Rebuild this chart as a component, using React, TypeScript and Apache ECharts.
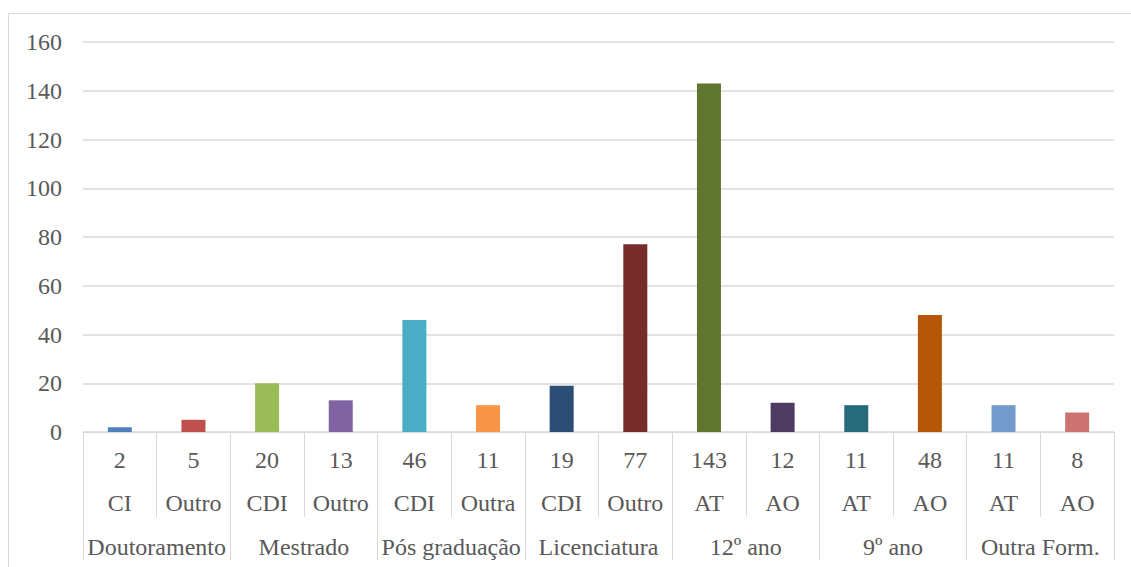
import React, { useEffect, useRef } from "react";
import * as echarts from "echarts";

const subLabels = ["CI", "Outro", "CDI", "Outro", "CDI", "Outra", "CDI", "Outro", "AT", "AO", "AT", "AO", "AT", "AO"];
const values = [2, 5, 20, 13, 46, 11, 19, 77, 143, 12, 11, 48, 11, 8];
const groups = ["Doutoramento", "Mestrado", "Pós graduação", "Licenciatura", "12º ano", "9º ano", "Outra Form."];
const barColors = [
  "#4F81BD", "#C0504D", "#9BBB59", "#8064A2", "#4BACC6", "#F79646", "#2C4D75",
  "#772C2A", "#5F7530", "#4D3B62", "#276A7C", "#B65708", "#729ACA", "#CD7371",
];
const yTicks = { min: 0, max: 160, interval: 20 };

const FONT = "Liberation Serif";
const TEXT = "#595959";
const LINE = "#d9d9d9";

export default function App() {
  const ref = useRef<HTMLDivElement>(null);
  useEffect(() => {
    if (!ref.current) return;
    const chart = echarts.init(ref.current, undefined, { renderer: "svg" });
    chart.setOption({
      animation: false,
      backgroundColor: "#ffffff",
      textStyle: { fontFamily: FONT },
      graphic: [
        {
          type: "rect",
          shape: { x: 8.5, y: 13.5, width: 1200, height: 700 },
          style: { fill: "none", stroke: LINE, lineWidth: 1 },
          silent: true,
          z: -1,
        },
      ],
      grid: { left: 83, right: 17, top: 42, bottom: 135, containLabel: false },
      xAxis: [
        {
          type: "category",
          position: "bottom",
          data: subLabels,
          axisLine: { show: true, lineStyle: { color: LINE, width: 1 } },
          axisTick: { show: true, length: 85, interval: 0, lineStyle: { color: LINE, width: 1 } },
          axisLabel: {
            interval: 0,
            margin: 6,
            color: TEXT,
            fontSize: 24,
            fontFamily: FONT,
            lineHeight: 43,
            formatter: (v: string, i: number) => `${values[i]}\n${v}`,
          },
        },
        {
          type: "category",
          position: "bottom",
          data: groups,
          axisLine: { show: false },
          axisTick: { show: true, length: 128, interval: 0, lineStyle: { color: LINE, width: 1 } },
          axisLabel: {
            interval: 0,
            margin: 100,
            color: TEXT,
            fontSize: 24,
            fontFamily: FONT,
            lineHeight: 30,
          },
        },
      ],
      yAxis: {
        type: "value",
        min: yTicks.min,
        max: yTicks.max,
        interval: yTicks.interval,
        axisLine: { show: false },
        axisTick: { show: false },
        splitLine: { show: true, lineStyle: { color: LINE, width: 1.5 } },
        axisLabel: { color: TEXT, fontSize: 24, fontFamily: FONT, margin: 21 },
      },
      series: [
        {
          type: "bar",
          xAxisIndex: 0,
          barWidth: 24,
          data: values.map((v, i) => ({ value: v, itemStyle: { color: barColors[i] } })),
        },
      ],
    });
    return () => chart.dispose();
  }, []);
  return (
    <div
      ref={ref}
      style={{ position: "absolute", left: 0, top: 0, width: 1131, height: 567 }}
    />
  );
}
